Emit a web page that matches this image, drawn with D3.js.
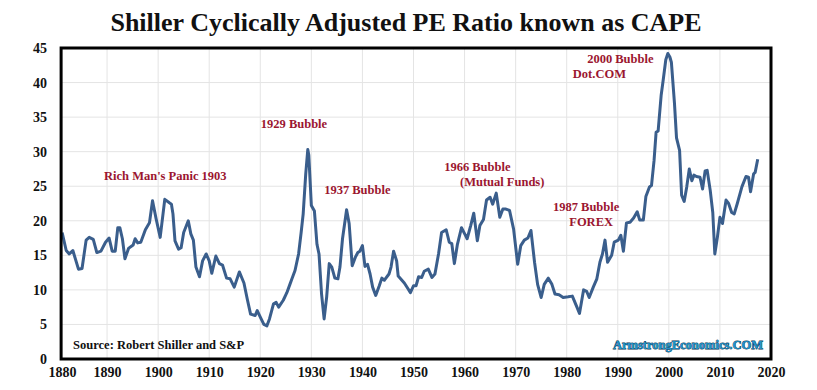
<!DOCTYPE html>
<html>
<head>
<meta charset="utf-8">
<script src="https://cdn.jsdelivr.net/npm/d3@7"></script>
<style>
  body { margin: 0; background: #fff; }
  svg { display: block; }
  svg text { font-family: "Liberation Serif", "Times New Roman", serif; font-weight: bold; }
</style>
</head>
<body>
<div id="chart"></div>
<script>
// CAPE readings (year, ratio)
var years = [
  1881.2, 1882.0, 1882.6, 1883.3, 1884.4, 1885.1, 1885.9, 1886.5, 1887.3, 1888.0,
  1888.8, 1889.7, 1890.4, 1891.0, 1891.6, 1892.1, 1892.5, 1893.0, 1893.5, 1894.2,
  1895.1, 1895.5, 1896.0, 1896.6, 1897.5, 1898.3, 1898.9, 1899.6, 1900.4, 1901.3,
  1902.2, 1902.6, 1902.9, 1903.3, 1904.0, 1904.5, 1905.0, 1905.9, 1906.4, 1906.9,
  1907.4, 1908.1, 1908.7, 1909.4, 1910.0, 1910.5, 1911.3, 1912.0, 1912.6, 1913.4,
  1914.1, 1914.9, 1915.9, 1916.8, 1917.5, 1918.1, 1919.0, 1919.4, 1920.1, 1920.7,
  1921.3, 1921.8, 1922.6, 1923.1, 1923.6, 1924.5, 1925.2, 1925.8, 1926.2, 1926.8,
  1927.5, 1928.0, 1928.4, 1928.9, 1929.3, 1929.5, 1930.0, 1930.6, 1931.1, 1931.5,
  1932.0, 1932.5, 1933.0, 1933.5, 1934.0, 1934.6, 1935.2, 1935.6, 1936.1, 1936.9,
  1937.4, 1938.0, 1938.6, 1939.1, 1939.5, 1940.0, 1940.5, 1941.0, 1941.5, 1942.0,
  1942.6, 1943.3, 1943.8, 1944.3, 1945.2, 1945.6, 1946.1, 1946.7, 1947.0, 1947.6,
  1948.2, 1948.8, 1949.4, 1950.0, 1950.5, 1951.0, 1951.6, 1952.1, 1952.9, 1953.6,
  1954.2, 1954.9, 1955.5, 1956.4, 1957.0, 1957.5, 1958.0, 1958.6, 1959.4, 1960.1,
  1960.5, 1961.2, 1961.8, 1962.5, 1963.0, 1963.7, 1964.3, 1965.0, 1965.5, 1966.2,
  1966.9, 1967.5, 1968.1, 1968.8, 1969.6, 1970.4, 1971.0, 1971.7, 1972.4, 1973.0,
  1973.7, 1974.3, 1975.0, 1975.6, 1976.4, 1977.1, 1977.7, 1978.5, 1979.3, 1980.3,
  1981.1, 1982.0, 1982.5, 1983.3, 1983.9, 1984.4, 1985.2, 1985.9, 1986.5, 1987.0,
  1987.5, 1988.0, 1988.8, 1989.3, 1990.1, 1990.6, 1991.1, 1991.7, 1992.4, 1993.1,
  1993.8, 1994.3, 1995.0, 1995.5, 1996.2, 1996.6, 1997.1, 1997.5, 1997.9, 1998.5,
  1998.9, 1999.4, 1999.8, 2000.2, 2000.5, 2001.1, 2001.5, 2002.1, 2002.5, 2003.0,
  2003.5, 2004.0, 2004.5, 2004.9, 2005.4, 2006.1, 2006.6, 2007.1, 2007.5, 2008.1,
  2008.6, 2009.0, 2009.5, 2010.0, 2010.5, 2011.2, 2011.7, 2012.3, 2012.8, 2013.4,
  2014.3, 2015.1, 2015.6, 2016.0, 2016.6, 2016.9, 2017.4
];
var cape = [
  18.3, 15.7, 15.2, 15.7, 13.0, 13.1, 17.2, 17.6, 17.3, 15.4,
  15.6, 16.9, 17.5, 15.6, 15.6, 19.0, 19.0, 17.4, 14.5, 16.0,
  16.5, 17.4, 16.8, 16.9, 18.7, 19.7, 22.9, 20.3, 17.6, 23.1,
  22.6, 22.4, 21.0, 17.1, 15.9, 16.1, 18.3, 20.0, 18.1, 17.2,
  13.3, 11.9, 14.2, 15.2, 14.2, 12.4, 14.9, 13.8, 13.6, 11.7,
  11.6, 10.4, 12.6, 11.0, 8.5, 6.5, 6.3, 7.0, 5.9, 5.0,
  4.8, 5.8, 8.0, 8.2, 7.5, 8.5, 9.6, 10.8, 11.6, 12.8,
  15.2, 18.3, 21.0, 26.8, 30.3, 29.5, 22.2, 21.4, 16.6, 15.2,
  9.4, 5.8, 9.0, 13.8, 13.3, 11.7, 11.6, 13.3, 17.4, 21.6,
  19.6, 13.5, 14.7, 15.4, 15.6, 16.4, 13.4, 13.7, 12.3, 10.4,
  9.2, 10.6, 11.7, 11.4, 12.3, 13.3, 15.6, 14.2, 12.0, 11.5,
  11.0, 10.3, 9.6, 10.6, 10.6, 11.9, 11.8, 12.7, 13.0, 11.8,
  12.3, 15.2, 18.3, 18.7, 16.9, 16.7, 13.8, 16.6, 19.0, 18.0,
  17.4, 19.3, 21.1, 17.1, 19.3, 20.2, 23.0, 23.4, 22.4, 24.0,
  20.5, 21.7, 21.7, 21.5, 18.8, 13.7, 16.4, 17.2, 17.5, 18.6,
  14.0, 10.8, 8.9, 10.8, 11.7, 10.8, 9.4, 9.3, 8.9, 9.0,
  9.1, 7.5, 6.6, 10.0, 9.8, 8.9, 10.4, 11.6, 14.0, 15.2,
  17.2, 14.0, 15.0, 16.9, 17.2, 17.9, 15.6, 19.7, 19.8, 20.4,
  21.3, 20.1, 20.1, 23.5, 24.9, 25.1, 28.7, 32.8, 33.0, 38.2,
  40.4, 43.3, 44.2, 43.7, 42.9, 37.0, 32.0, 30.2, 23.7, 22.8,
  24.9, 27.5, 25.8, 26.6, 26.4, 26.3, 24.6, 27.2, 27.3, 24.4,
  21.2, 15.2, 17.6, 20.5, 19.6, 23.0, 22.5, 21.2, 21.0, 22.5,
  24.9, 26.4, 26.3, 24.2, 26.8, 27.0, 28.9
];

var yTicks = [0, 5, 10, 15, 20, 25, 30, 35, 40, 45];
var xTicks = [1880, 1890, 1900, 1910, 1920, 1930, 1940, 1950, 1960, 1970, 1980, 1990, 2000, 2010, 2020];

// annotation lines: text, start year, level of the baseline
var noteText = ["Rich Man's Panic 1903", "1929 Bubble", "1937 Bubble", "1966 Bubble", "(Mutual Funds)",
                "1987 Bubble", "FOREX", "2000 Bubble", "Dot.COM"];
var noteYear = [1889.4, 1920.1, 1932.5, 1956.0, 1959.1, 1977.3, 1980.5, 1984.0, 1981.2];
var noteLevel = [25.9, 33.4, 23.9, 27.25, 25.1, 21.45, 19.3, 42.85, 40.7];

var W = 817, H = 390;
var red = "#9b1630", blue = "#3a5e8c";
var serif = "'Liberation Serif', 'Times New Roman', serif";

var svg = d3.select("#chart").append("svg").attr("width", W).attr("height", H);

var x = d3.scaleLinear().domain([1880, 2020]).range([56, 771]);
var y = d3.scaleLinear().domain([0, 45]).range([359, 48]);

var plotL = x(1881), plotR = x(2020), plotT = y(45), plotB = y(0);

// title
svg.append("text")
  .attr("x", 406)
  .attr("y", 31)
  .attr("text-anchor", "middle")
  .style("font-family", serif)
  .style("font-size", "26px")
  .style("fill", "#111")
  .text("Shiller Cyclically Adjusted PE Ratio known as CAPE");

// gridlines
svg.append("g")
  .selectAll("line")
  .data(yTicks.filter(function (d) { return d > 0 && d < 45; }))
  .enter()
  .append("line")
  .attr("x1", plotL)
  .attr("x2", plotR)
  .attr("y1", function (d) { return y(d); })
  .attr("y2", function (d) { return y(d); })
  .style("stroke", "#e4e4e4");
svg.append("g")
  .selectAll("line")
  .data(xTicks.filter(function (d) { return d > 1880 && d < 2020; }))
  .enter()
  .append("line")
  .attr("y1", plotT)
  .attr("y2", plotB)
  .attr("x1", function (d) { return x(d); })
  .attr("x2", function (d) { return x(d); })
  .style("stroke", "#e4e4e4");

// the series
var line = d3.line()
  .x(function (d, i) { return x(years[i]); })
  .y(function (d) { return y(d); });
svg.append("path")
  .datum(cape)
  .attr("d", line)
  .style("fill", "none")
  .style("stroke", blue)
  .style("stroke-width", 3)
  .style("stroke-linejoin", "round");

// frame
svg.append("rect")
  .attr("x", plotL)
  .attr("y", plotT)
  .attr("width", plotR - plotL)
  .attr("height", plotB - plotT)
  .style("fill", "none")
  .style("stroke", "#000")
  .style("stroke-width", 3);

// axes
var yAxis = svg.append("g")
  .attr("transform", "translate(50,0)")
  .call(d3.axisLeft(y).tickValues(yTicks).tickSize(0).tickPadding(3));
var xAxis = svg.append("g")
  .attr("transform", "translate(0," + plotB + ")")
  .call(d3.axisBottom(x).tickValues(xTicks).tickFormat(d3.format("d")).tickSize(0).tickPadding(8));
svg.selectAll(".domain").remove();
svg.selectAll(".tick text")
  .style("font-family", serif)
  .style("font-weight", "bold")
  .style("font-size", "14px")
  .style("fill", "#111");
xAxis.selectAll(".tick text")
  .attr("dx", function (d) { return d === 1880 ? 6 : 0; });

// annotations
svg.append("g")
  .selectAll("text")
  .data(noteText)
  .enter()
  .append("text")
  .attr("x", function (d, i) { return x(noteYear[i]); })
  .attr("y", function (d, i) { return y(noteLevel[i]); })
  .style("font-family", serif)
  .style("font-size", "12.5px")
  .style("fill", red)
  .text(function (d) { return d; });

// source + brand
svg.append("text")
  .attr("x", plotL + 12)
  .attr("y", plotB - 10)
  .style("font-family", serif)
  .style("font-size", "12.5px")
  .style("fill", "#111")
  .text("Source: Robert Shiller and S&P");
svg.append("text")
  .attr("x", plotR - 8)
  .attr("y", plotB - 10)
  .attr("text-anchor", "end")
  .style("font-family", serif)
  .style("font-size", "12.5px")
  .style("fill", "#1f93c9")
  .style("paint-order", "stroke")
  .style("stroke", "#0d3550")
  .style("stroke-width", 0.8)
  .text("ArmstrongEconomics.COM");
</script>
</body>
</html>
